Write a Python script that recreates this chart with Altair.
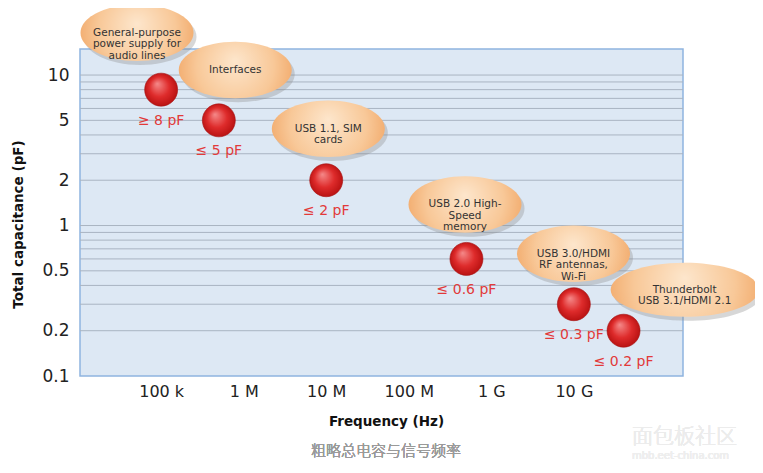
import altair as alt
import pandas as pd

# ---- data ----
freq = [1e5, 5e5, 1e7, 5e8, 1e10, 4e10]
cap = [8, 5, 2, 0.6, 0.3, 0.2]
cap_labels = ["≥ 8 pF", "≤ 5 pF", "≤ 2 pF", "≤ 0.6 pF", "≤ 0.3 pF", "≤ 0.2 pF"]

callout_text = [
    "General-purpose\npower supply for\naudio lines",
    "Interfaces",
    "USB 1.1,  SIM\ncards",
    "USB 2.0 High-\nSpeed\nmemory",
    "USB 3.0/HDMI\nRF antennas,\nWi-Fi",
    "Thunderbolt\nUSB 3.1/HDMI  2.1",
]
callout_freq = [5.1e4, 7.9e5, 1.06e7, 4.8e8, 9.9e9, 2.2e11]
callout_cap = [19.1, 10.8, 4.4, 1.38, 0.65, 0.374]

grid_vals = [10, 9, 8, 7, 6, 5, 4, 3, 2, 1, 0.9, 0.8, 0.7, 0.6, 0.5, 0.4, 0.3, 0.2]
y_ticks = [0.1, 0.2, 0.5, 1, 2, 5, 10]
x_ticks = [1e5, 1e6, 1e7, 1e8, 1e9, 1e10]
x_tick_labels = ["100 k", "1 M", "10 M", "100 M", "1 G", "10 G"]

caption = "粗略总电容与信号频率"

points = pd.DataFrame({"freq": freq, "cap": cap, "label": cap_labels})
callouts = pd.DataFrame({"freq": callout_freq, "cap": callout_cap,
                         "text": callout_text, "idx": list(range(len(callout_text)))})
grid = pd.DataFrame({"cap": grid_vals})

x_expr = " : ".join(
    f"abs(datum.value - {v}) < {v * 0.01} ? '{l}'" for v, l in zip(x_ticks, x_tick_labels)
) + " : ''"

FONT = "DejaVu Sans"

xscale = alt.Scale(type="log", domain=[1.04e4, 2.1e11], nice=False)
yscale = alt.Scale(type="log", domain=[0.1, 14.9], nice=False)

x_enc = alt.X("freq:Q", scale=xscale,
              axis=alt.Axis(values=x_ticks, labelExpr=x_expr, grid=False, ticks=False,
                            domain=False, labelFontSize=16, labelColor="#222222",
                            labelFont=FONT, labelPadding=7,
                            title="Frequency (Hz)", titleFont=FONT, titleFontSize=13.5,
                            titleFontWeight="bold", titleColor="#111111",
                            titleX=306, titleY=45, titleBaseline="middle"))
y_enc = alt.Y("cap:Q", scale=yscale,
              axis=alt.Axis(values=y_ticks, format="~g", grid=False, ticks=False,
                            domain=False, labelFontSize=17, labelColor="#222222",
                            labelFont=FONT, labelPadding=11,
                            title="Total capacitance (pF)", titleFont=FONT,
                            titleFontSize=13.5, titleFontWeight="bold", titleColor="#111111",
                            titleX=-62, titleY=175, titleBaseline="middle",
                            titleAlign="center", titleAngle=270))

axes = alt.Chart(points).mark_point(opacity=0).encode(x=x_enc, y=y_enc)

gridlines = alt.Chart(grid).mark_rule(color="#a9b4c2", strokeWidth=1).encode(
    y=alt.Y("cap:Q", scale=yscale)
)

ell_std = "M -1 0 A 1 0.5 0 1 1 1 0 A 1 0.5 0 1 1 -1 0 Z"
ell_wide = "M -1 0 A 1 0.365 0 1 1 1 0 A 1 0.365 0 1 1 -1 0 Z"

orange = alt.Gradient(
    gradient="radial",
    stops=[alt.GradientStop(color="#fde6cc", offset=0),
           alt.GradientStop(color="#f8c898", offset=0.55),
           alt.GradientStop(color="#ef9d58", offset=1)],
    x1=0.5, y1=0.42, r1=0, x2=0.5, y2=0.5, r2=0.62,
)
red = alt.Gradient(
    gradient="radial",
    stops=[alt.GradientStop(color="#f58a8a", offset=0),
           alt.GradientStop(color="#de2b2b", offset=0.55),
           alt.GradientStop(color="#b30e0e", offset=1)],
    x1=0.38, y1=0.32, r1=0, x2=0.5, y2=0.5, r2=0.55,
)

base_c = alt.Chart(callouts).encode(
    x=alt.X("freq:Q", scale=xscale), y=alt.Y("cap:Q", scale=yscale)
)
std = base_c.transform_filter("datum.idx < 5")
wide = base_c.transform_filter("datum.idx == 5")

shadow_std = std.mark_point(shape=ell_std, size=12769, filled=True, fill="#8c8c8c",
                            opacity=0.35, strokeWidth=0, xOffset=3, yOffset=4)
shadow_wide = wide.mark_point(shape=ell_wide, size=21904, filled=True, fill="#8c8c8c",
                              opacity=0.35, strokeWidth=0, xOffset=3, yOffset=4)
ell1 = std.mark_point(shape=ell_std, size=12769, filled=True, fill=orange,
                      opacity=1, strokeWidth=0)
ell2 = wide.mark_point(shape=ell_wide, size=21904, filled=True, fill=orange,
                       opacity=1, strokeWidth=0)
ell_text = base_c.mark_text(font=FONT, fontSize=10.5, color="#333333", lineBreak="\n",
                            lineHeight=11.5, align="center", baseline="middle").encode(
    text="text:N"
)

base_p = alt.Chart(points).encode(
    x=alt.X("freq:Q", scale=xscale), y=alt.Y("cap:Q", scale=yscale)
)
bubbles = base_p.mark_point(shape="circle", size=1089, filled=True, fill=red, opacity=1,
                            stroke="#a51010", strokeWidth=0.6)
labels = base_p.mark_text(font=FONT, fontSize=14, color="#e23a3a", dy=31,
                          align="center", baseline="middle").encode(text="label:N")

cap_text = alt.Chart(points).mark_text(
    text=caption, font="Noto Sans CJK SC", fontSize=15, fontWeight=300, color="#9a9a9a",
    align="center", baseline="middle"
).encode(x=alt.value(306), y=alt.value(402))

wm1 = alt.Chart(points).mark_text(text="面包板社区", font="Noto Sans CJK SC", fontSize=21,
                                  fontWeight=300, color="#ececec", align="left",
                                  baseline="middle").encode(
    x=alt.value(552), y=alt.value(388))
wm2 = alt.Chart(points).mark_text(text="mbb.eet-china.com", font=FONT, fontSize=10,
                                  color="#eeeeee", align="left", baseline="middle").encode(
    x=alt.value(552), y=alt.value(407))

chart = alt.layer(
    axes, gridlines, shadow_std, shadow_wide, ell1, ell2, ell_text, bubbles, labels,
    cap_text, wm1, wm2
).properties(
    width=603, height=327,
    padding={"left": 72, "top": 41, "right": 72, "bottom": 97},
    autosize=alt.AutoSizeParams(type="none"),
    background="white",
).configure_view(
    fill="#dde8f4", stroke="#8fb4df", strokeWidth=1.5
)

chart.save("out.html", embed_options={"renderer": "svg", "actions": False})
